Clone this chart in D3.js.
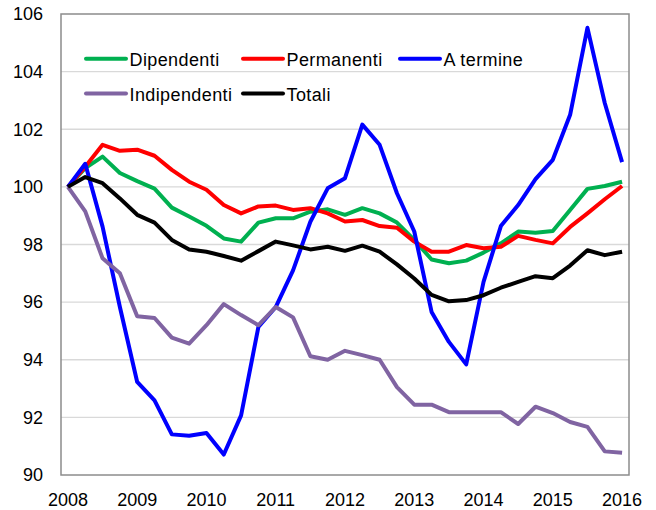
<!DOCTYPE html>
<html>
<head>
<meta charset="utf-8">
<script src="https://cdn.jsdelivr.net/npm/d3@7"></script>
<style>
  body { margin: 0; background: #fff; }
  svg text { font-family: "Liberation Sans", Arial, sans-serif; fill: #000; }
</style>
</head>
<body>
<svg id="chart" width="656" height="510"></svg>
<script>
// quarterly index, 2008 Q1 = 100
const periods = [
  "2008T1","2008T2","2008T3","2008T4","2009T1","2009T2","2009T3","2009T4",
  "2010T1","2010T2","2010T3","2010T4","2011T1","2011T2","2011T3","2011T4",
  "2012T1","2012T2","2012T3","2012T4","2013T1","2013T2","2013T3","2013T4",
  "2014T1","2014T2","2014T3","2014T4","2015T1","2015T2","2015T3","2015T4",
  "2016T1"
]
const yearTicks = ["2008","2009","2010","2011","2012","2013","2014","2015","2016"]
const yTicks = [90, 92, 94, 96, 98, 100, 102, 104, 106]

const dipendenti = [100, 100.65, 101.05, 100.48, 100.2, 99.94, 99.28, 98.97,
  98.65, 98.21, 98.1, 98.76, 98.91, 98.91, 99.14, 99.22,
  99.03, 99.26, 99.08, 98.76, 98.16, 97.48, 97.35, 97.44,
  97.72, 98.04, 98.45, 98.41, 98.47, 99.2, 99.93, 100.03, 100.18]
const permanenti = [100, 100.7, 101.46, 101.25, 101.29, 101.08, 100.59, 100.18,
  99.9, 99.37, 99.08, 99.32, 99.35, 99.2, 99.26, 99.08,
  98.8, 98.85, 98.64, 98.58, 98.1, 97.75, 97.75, 97.98,
  97.87, 97.92, 98.3, 98.16, 98.04, 98.61, 99.08, 99.57, 100.03]
const aTermine = [100, 100.8, 98.62, 95.83, 93.23, 92.59, 91.41, 91.36,
  91.46, 90.71, 92.07, 95.14, 95.83, 97.1, 98.79, 99.95,
  100.3, 102.16, 101.46, 99.78, 98.45, 95.66, 94.62, 93.84,
  96.7, 98.64, 99.37, 100.27, 100.94, 102.5, 105.52, 102.91, 100.86]
const indipendenti = [100, 99.15, 97.52, 97.0, 95.51, 95.45, 94.77, 94.56,
  95.2, 95.93, 95.55, 95.2, 95.83, 95.47, 94.12, 94.0,
  94.31, 94.16, 94.0, 93.05, 92.44, 92.44, 92.18, 92.18,
  92.18, 92.18, 91.77, 92.37, 92.15, 91.84, 91.67, 90.82, 90.77]
const totali = [100, 100.34, 100.13, 99.6, 99.03, 98.76, 98.16, 97.83,
  97.75, 97.6, 97.44, 97.77, 98.1, 97.97, 97.83, 97.92,
  97.78, 97.96, 97.75, 97.31, 96.82, 96.25, 96.03, 96.07,
  96.24, 96.5, 96.7, 96.9, 96.83, 97.27, 97.8, 97.63, 97.75]

const series = [
  { name: "Dipendenti", values: dipendenti, color: "#00b050" },
  { name: "Permanenti", values: permanenti, color: "#ff0000" },
  { name: "A termine", values: aTermine, color: "#0000ff" },
  { name: "Indipendenti", values: indipendenti, color: "#8064a2" },
  { name: "Totali", values: totali, color: "#000000" }
]

const svg = d3.select("#chart")
const plot = { left: 61, right: 629, top: 14, bottom: 475 }

const x = d3.scalePoint().domain(periods).range([plot.left, plot.right]).padding(0.4)
const y = d3.scaleLinear().domain([90, 106]).range([plot.bottom, plot.top])

// gridlines
svg.append("g")
  .selectAll("line")
  .data(yTicks.slice(1, -1))
  .enter().append("line")
  .attr("x1", plot.left).attr("x2", plot.right)
  .attr("y1", d => y(d)).attr("y2", d => y(d))
  .attr("stroke", "#d9d9d9").attr("stroke-width", 1.3)

// frame
svg.append("rect")
  .attr("x", plot.left).attr("y", plot.top)
  .attr("width", plot.right - plot.left).attr("height", plot.bottom - plot.top)
  .attr("fill", "none").attr("stroke", "#8c8c8c").attr("stroke-width", 1.5)

// y axis labels
const yAxis = d3.axisLeft(y).tickValues(yTicks).tickSize(0).tickPadding(18)
svg.append("g")
  .attr("transform", "translate(" + plot.left + ",0)")
  .call(yAxis)
  .call(g => g.select(".domain").remove())
  .selectAll("text")
  .style("font-size", "18px")
  .attr("font-family", null)

// x axis labels, one per year
const yearIdx = d3.range(0, periods.length, 4)
svg.append("g")
  .selectAll("text")
  .data(yearIdx)
  .enter().append("text")
  .attr("x", i => x(periods[i]))
  .attr("y", 506)
  .attr("text-anchor", "middle")
  .style("font-size", "18px")
  .text((i, k) => yearTicks[k])

// lines
const line = d3.line()
  .x((d, i) => x(periods[i]))
  .y(d => y(d))

svg.append("g")
  .selectAll("path")
  .data(series)
  .enter().append("path")
  .attr("d", s => line(s.values))
  .attr("fill", "none")
  .attr("stroke", s => s.color)
  .attr("stroke-width", 4)
  .attr("stroke-linejoin", "round")

// legend
const legendPos = [[86, 58.7], [243, 58.7], [400, 58.7], [86, 93.5], [243, 93.5]]
const legend = svg.append("g")
  .selectAll("g")
  .data(series)
  .enter().append("g")
  .attr("transform", (s, i) => "translate(" + legendPos[i][0] + "," + legendPos[i][1] + ")")
legend.append("line")
  .attr("x1", 0).attr("x2", 40)
  .attr("stroke", s => s.color).attr("stroke-width", 4)
  .attr("stroke-linecap", "round")
legend.append("text")
  .attr("x", 43.5).attr("y", 7.5)
  .style("font-size", "18px")
  .style("letter-spacing", "0.4px")
  .text(s => s.name)
</script>
</body>
</html>
